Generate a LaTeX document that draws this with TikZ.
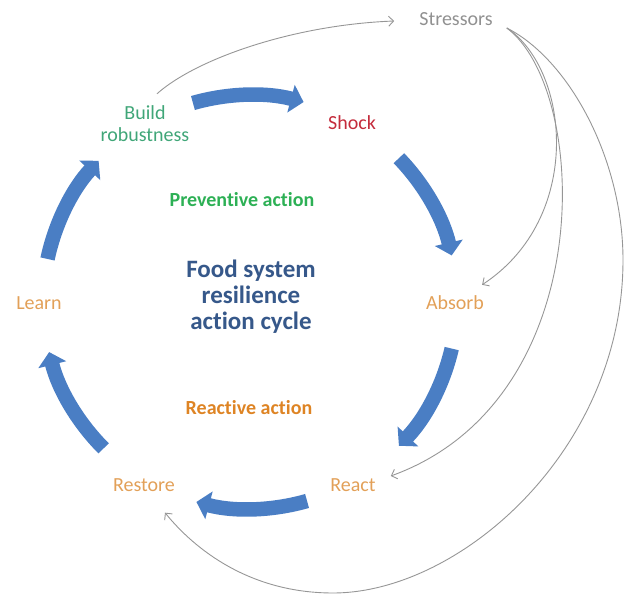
\documentclass[tikz,border=0pt]{standalone}
\usepackage{fontspec}
\setmainfont{Carlito}[Ligatures=NoCommon]
\usetikzlibrary{arrows.meta,calc}

\definecolor{cycleblue}{RGB}{74,126,196}
\definecolor{stressgray}{RGB}{145,145,145}
\definecolor{linegray}{RGB}{150,150,150}
\definecolor{buildgreen}{RGB}{64,166,120}
\definecolor{prevgreen}{RGB}{45,176,85}
\definecolor{shockred}{RGB}{196,44,60}
\definecolor{phaseorange}{RGB}{226,160,88}
\definecolor{reactorange}{RGB}{222,132,36}
\definecolor{titleblue}{RGB}{54,88,138}

\begin{document}
\begin{tikzpicture}[x=1pt,y=1pt,
  lbl/.style={font=\fontsize{20}{22}\selectfont, inner sep=2pt, align=center},
  boldlbl/.style={font=\fontsize{20}{22}\selectfont\bfseries, inner sep=2pt, align=center},
  titlelbl/.style={font=\fontsize{25}{26}\selectfont\bfseries, inner sep=2pt, align=center, text=titleblue},
  cyclearrow/.style={draw=cycleblue, line width=14.5pt, -{Triangle[length=13pt,width=28pt]}},
  stressline/.style={draw=linegray, line width=0.9pt, -{Straight Barb[length=5pt,width=10pt]}}]
\useasboundingbox (0,0) rectangle (625,595);

% labels
\node[lbl, text=stressgray] (stressors) at (456,576) {Stressors};
\node[lbl, text=buildgreen] (build) at (145,471) {Build\\robustness};
\node[lbl, text=shockred] (shock) at (352,472) {Shock};
\node[lbl, text=phaseorange] (absorb) at (455,292) {Absorb};
\node[lbl, text=phaseorange] (react) at (353,110) {React};
\node[lbl, text=phaseorange] (restore) at (144,110) {Restore};
\node[lbl, text=phaseorange] (learn) at (39,292) {Learn};
\node[boldlbl, text=prevgreen] (preventive) at (242,395) {Preventive action};
\node[boldlbl, text=reactorange] (reactive) at (249,187) {Reactive action};
\node[titlelbl] (title) at (251,298) {Food system\\resilience\\action cycle};

% the cycle of thick arrows
\coordinate (C) at (250,293);
\foreach \a [evaluate=\a as \s using \a+16, evaluate=\a as \e using \a-15] in {90,28,-29,-90,-151,152}
  \draw[cyclearrow] ($(C)+(\s:207pt)$) arc[start angle=\s, end angle=\e, radius=207pt];

% stressor links
\draw[stressline] ([shift={(12,10)}]build.north) .. controls +(38,34) and +(-103,-4) .. ([shift={(-23,-2)}]stressors.west);
\draw[stressline] ([shift={(12,-9)}]stressors.east) .. controls +(63,-42) and +(102,67) .. ([shift={(-4,9)}]absorb.north east);
\draw[stressline] ([shift={(12,-9)}]stressors.east) .. controls +(83,-62) and +(210,76) .. ([shift={(13,9)}]react.east);
\draw[stressline] ([shift={(12,-9)}]stressors.east) .. controls +(63,-32) and +(0,100) .. (623,335)
  .. controls +(0,-190) and +(127,0) .. (333,2)
  .. controls +(-83,0) and +(30,-37) .. ([shift={(21,-19)}]restore.south);
\end{tikzpicture}
\end{document}
